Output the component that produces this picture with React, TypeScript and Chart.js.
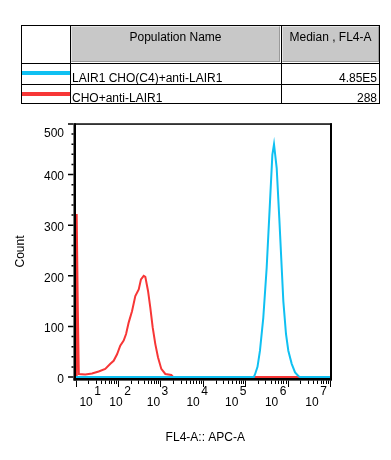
import React, { useEffect, useRef } from "react";
import { Chart, registerables } from "chart.js";

Chart.register(...registerables);

// ---- data ----
const populationNames = ["LAIR1 CHO(C4)+anti-LAIR1", "CHO+anti-LAIR1"];
const medians = ["4.85E5", "288"];
const seriesColors = ["#0fc0f2", "#f73636"];

const cyanX = [10, 160000, 170000, 195000, 223000, 267000, 321000, 385000, 437000, 478000, 553000, 637000, 726000, 793000, 916000, 1040000, 1250000, 1500000, 1790000, 1950000, 10000000];
const cyanY = [0, 0, 5, 20, 52, 117, 216, 347, 439, 460, 413, 314, 216, 150, 85, 52, 26, 9, 2, 0, 0];

const redX = [10.5, 10.6, 11.3, 11.9, 16.9, 24.4, 35, 50, 66, 79, 95, 113, 136, 155, 179, 214, 256, 308, 348, 404, 441, 511, 578, 658, 759, 877, 1050, 1306, 1807, 1995, 10000000];
const redY = [0, 322, 130, 6, 5, 7, 11, 16, 26, 32, 45, 62, 72, 85, 108, 130, 160, 173, 193, 200, 198, 170, 137, 98, 65, 39, 16, 6, 4, 0, 0];

const xDecades = [1, 2, 3, 4, 5, 6, 7];
const yTicks = [0, 100, 200, 300, 400, 500];
const xTitle = "FL4-A:: APC-A";
const yTitle = "Count";

// label placement tweaks (style)
const xLabelShift = [10.5, -2, -7, -9.7, -13.5, -16, -18];

const FONT = "Arial, 'Liberation Sans', sans-serif";

const axesPlugin = {
  id: "flowAxes",
  afterDraw(chart: any) {
    const ctx = chart.ctx as CanvasRenderingContext2D;
    const xs = chart.scales.x;
    const ys = chart.scales.y;
    const ca = chart.chartArea;
    ctx.save();
    ctx.fillStyle = "#000";
    // frame
    ctx.fillRect(73.5, 123.3, 2.5, 257.2); // left axis
    ctx.fillRect(73.5, 378, 258.5, 2.6); // bottom axis
    ctx.fillRect(330, 123.3, 2, 257); // right border
    ctx.fillRect(74, 123.3, 258, 1.5); // top border

    // x ticks
    ctx.strokeStyle = "#000";
    ctx.lineWidth = 1;
    ctx.beginPath();
    for (let k = 1; k <= 7; k++) {
      for (let m = 1; m <= 9; m++) {
        const v = m * Math.pow(10, k);
        if (v > 1e7 * 1.0001) continue;
        const px = Math.round(xs.getPixelForValue(v)) + 0.5;
        const len = m === 1 ? 6.5 : 3.5;
        ctx.moveTo(px, 380.5);
        ctx.lineTo(px, 380.5 + len);
      }
    }
    ctx.stroke();

    // y ticks
    ctx.lineWidth = 1.5;
    ctx.beginPath();
    for (let v = 0; v <= 500; v += 20) {
      const py = ys.getPixelForValue(v);
      const major = v % 100 === 0;
      ctx.moveTo(73.5, py);
      ctx.lineTo(major ? 68 : 71.5, py);
    }
    ctx.stroke();

    // y labels
    ctx.font = `12px ${FONT}`;
    ctx.textAlign = "right";
    ctx.textBaseline = "middle";
    yTicks.forEach((v) => {
      const py = ys.getPixelForValue(v);
      const dy = v === 500 ? 10 : 2.5;
      ctx.fillText(String(v), 64, py + dy);
    });

    // x labels 10^k
    xDecades.forEach((k, i) => {
      const px = xs.getPixelForValue(Math.pow(10, k)) + xLabelShift[i];
      ctx.font = `12px ${FONT}`;
      ctx.textAlign = "center";
      ctx.textBaseline = "middle";
      ctx.fillText("10", px, 402.5);
      const w = ctx.measureText("10").width;
      ctx.textAlign = "left";
      ctx.fillText(String(k), px + w / 2 + 1.5, 392);
    });

    // titles
    ctx.font = `12px ${FONT}`;
    ctx.textAlign = "center";
    ctx.textBaseline = "middle";
    ctx.fillText(xTitle, (ca.left + ca.right) / 2 + 2.5, 437.5);
    ctx.save();
    ctx.translate(21, (ca.top + ca.bottom) / 2 + 1);
    ctx.rotate(-Math.PI / 2);
    ctx.fillText(yTitle, 0, 0);
    ctx.restore();
    ctx.restore();
  },
};

function LegendTable() {
  const text: React.CSSProperties = {
    position: "absolute",
    fontFamily: FONT,
    fontSize: 12,
    lineHeight: "14px",
    height: 14,
    color: "#000",
    whiteSpace: "nowrap",
  };
  const line = (style: React.CSSProperties) => (
    <div style={{ position: "absolute", background: "#000", ...style }} />
  );
  const grey = (left: number, width: number) => (
    <div
      style={{
        position: "absolute",
        left,
        top: 26,
        width,
        height: 36,
        background: "#c8c8c8",
        borderTop: "1px solid #e4e4e4",
        borderLeft: "1px solid #e4e4e4",
        borderRight: "1px solid #9a9a9a",
        borderBottom: "1px solid #9a9a9a",
        boxSizing: "border-box",
      }}
    />
  );
  return (
    <>
      {grey(71, 209)}
      {grey(282, 97)}
      {line({ left: 21, top: 25, width: 359, height: 1 })}
      {line({ left: 21, top: 103, width: 359, height: 1 })}
      {line({ left: 21, top: 25, width: 1, height: 79 })}
      {line({ left: 379, top: 25, width: 1, height: 79 })}
      {line({ left: 70, top: 25, width: 1, height: 79 })}
      {line({ left: 281, top: 25, width: 1, height: 79 })}
      {line({ left: 21, top: 63, width: 359, height: 1 })}
      {line({ left: 21, top: 84, width: 359, height: 1 })}
      <div style={{ ...text, left: 71, width: 209, top: 30, textAlign: "center" }}>Population Name</div>
      <div style={{ ...text, left: 282, width: 97, top: 30, textAlign: "center" }}>Median , FL4-A</div>
      {populationNames.map((name, i) => (
        <React.Fragment key={name}>
          <div
            style={{
              position: "absolute",
              left: 22,
              top: 71 + i * 21,
              width: 48,
              height: 4,
              background: seriesColors[i],
            }}
          />
          <div style={{ ...text, left: 72, top: 71 + i * 19.7 }}>{name}</div>
          <div style={{ ...text, left: 282, width: 95, top: 71 + i * 19.7, textAlign: "right" }}>
            {medians[i]}
          </div>
        </React.Fragment>
      ))}
    </>
  );
}

export default function App() {
  const canvasRef = useRef<HTMLCanvasElement | null>(null);

  useEffect(() => {
    const canvas = canvasRef.current;
    if (!canvas) return;
    const chart = new Chart(canvas, {
      type: "line",
      data: {
        datasets: [
          {
            label: populationNames[0],
            data: cyanX.map((x, i) => ({ x, y: cyanY[i] })),
            borderColor: seriesColors[0],
            borderWidth: 2,
            pointRadius: 0,
            tension: 0,
            fill: false,
            clip: false as any,
          },
          {
            label: populationNames[1],
            data: redX.map((x, i) => ({ x, y: redY[i] })),
            borderColor: seriesColors[1],
            borderWidth: 2,
            pointRadius: 0,
            tension: 0,
            fill: false,
            clip: false as any,
          },
        ],
      },
      options: {
        animation: false,
        responsive: false,
        devicePixelRatio: 1,
        layout: { padding: { left: 75.6, right: 61, top: 124, bottom: 83 } },
        scales: {
          x: { type: "logarithmic", min: 10, max: 1e7, display: false },
          y: { type: "linear", min: 0, max: 500, display: false },
        },
        plugins: {
          legend: { display: false },
          tooltip: { enabled: false },
        },
      },
      plugins: [axesPlugin],
    });
    return () => chart.destroy();
  }, []);

  return (
    <div
      style={{
        position: "absolute",
        left: 0,
        top: 0,
        width: 391,
        height: 460,
        background: "#fff",
        overflow: "hidden",
      }}
    >
      <canvas
        ref={canvasRef}
        width={391}
        height={460}
        style={{ position: "absolute", left: 0, top: 0, width: 391, height: 460 }}
      />
      <LegendTable />
    </div>
  );
}
